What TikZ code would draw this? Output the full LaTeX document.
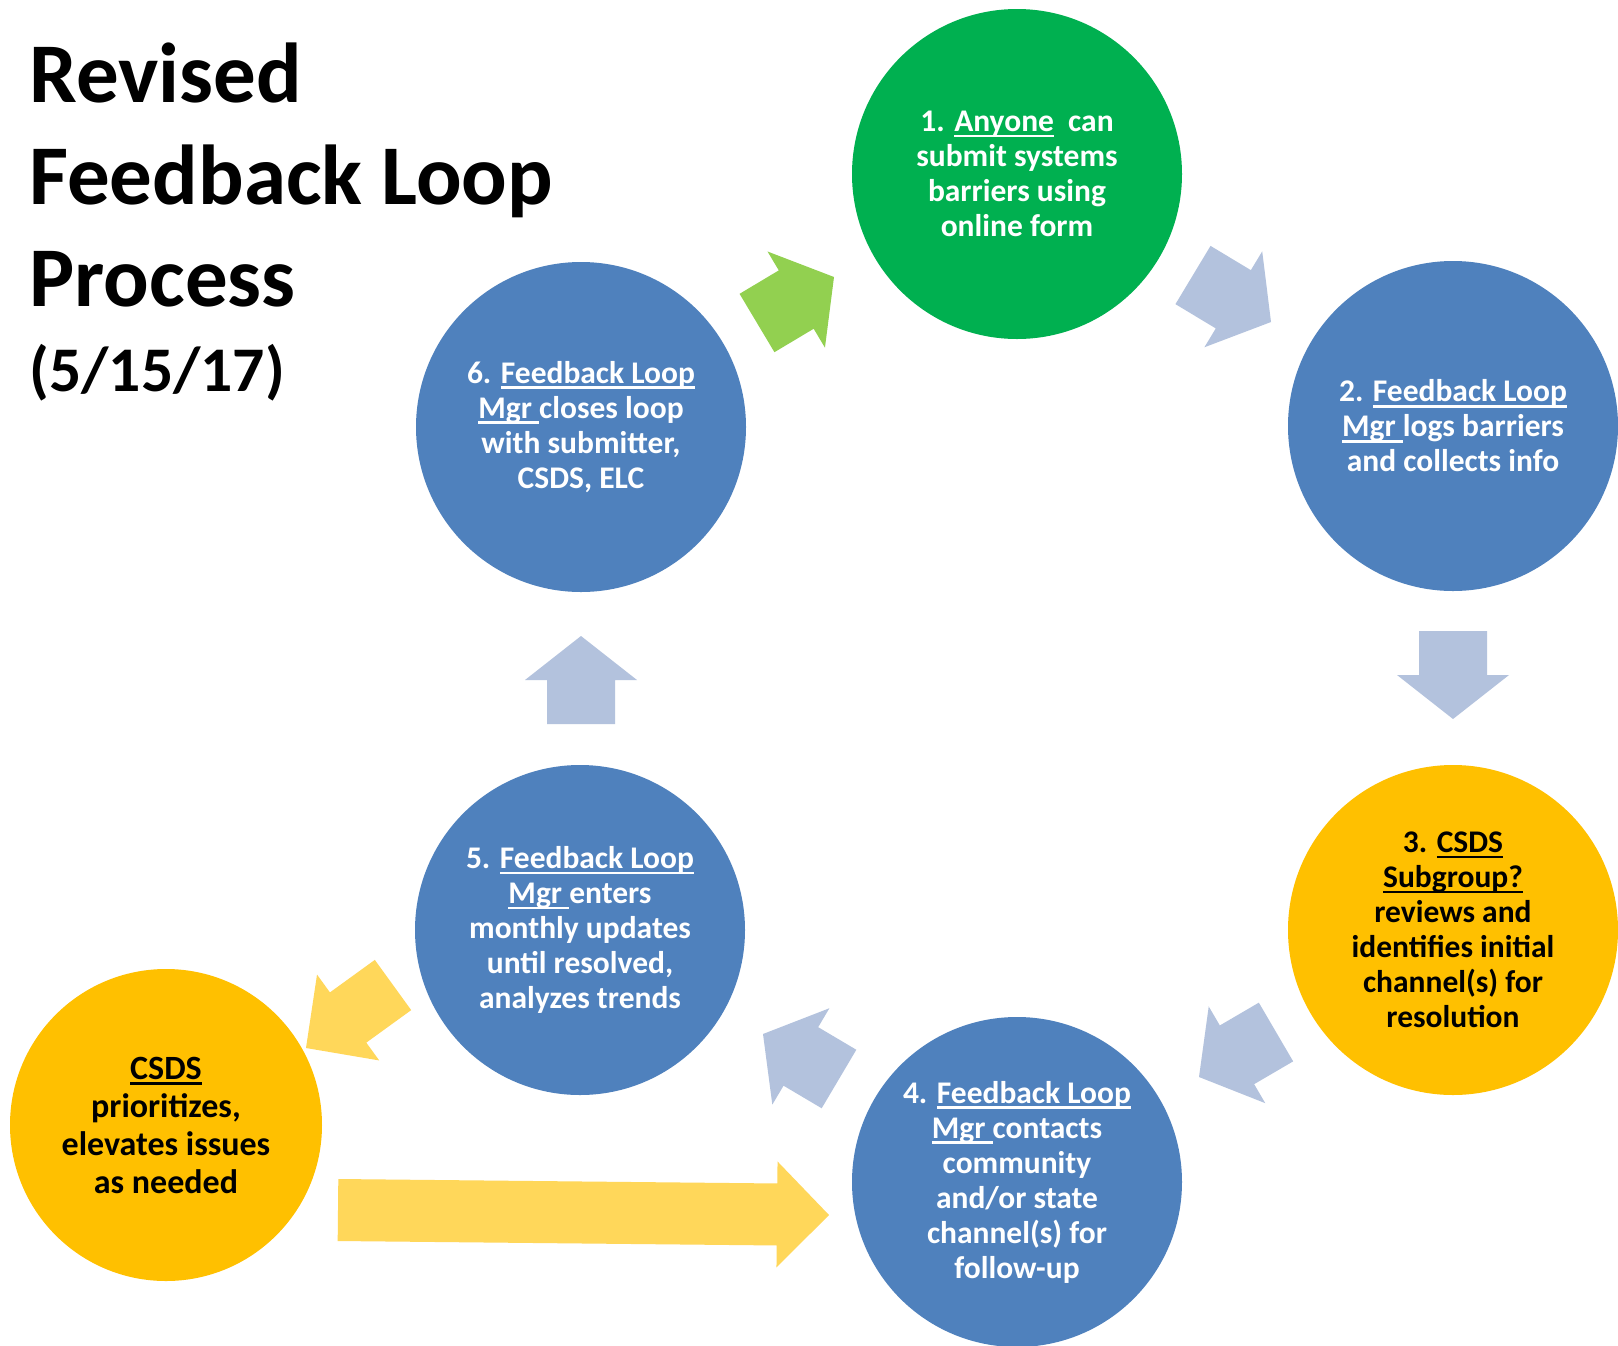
\documentclass[tikz,border=0pt]{standalone}
\usepackage{fontspec}
\setmainfont{Carlito}
\usetikzlibrary{calc}

\definecolor{loopgreen}{HTML}{00B050}
\definecolor{loopblue}{HTML}{4F81BD}
\definecolor{loopyellow}{HTML}{FFC000}
\definecolor{arrowblue}{HTML}{B3C2DD}
\definecolor{arrowgreen}{HTML}{92D050}
\definecolor{arrowyellow}{HTML}{FFD75A}

% underlined piece of one line
\newsavebox\ulbox
\newcommand{\ulin}[1]{\sbox\ulbox{#1}\rlap{\rule[-2.8pt]{\wd\ulbox}{1.3pt}}\usebox\ulbox}

% block arrow: tail, tip, colour, half shaft, half head, head length
\newcommand{\blockarrow}[6]{%
  \coordinate (hb) at ($(#2)!#6!(#1)$);
  \fill[#3] ($(#1)!#4!90:(#2)$) -- ($(hb)!#4!90:(#2)$) -- ($(hb)!#5!90:(#2)$) -- (#2)
    -- ($(hb)!#5!-90:(#2)$) -- ($(hb)!#4!-90:(#2)$) -- ($(#1)!#4!-90:(#2)$) -- cycle;
}

\begin{document}
\begin{tikzpicture}[x=0.5pt, y=-0.5pt,
    stage/.style={circle, minimum size=165pt, inner sep=0pt, align=center,
      font=\fontsize{15.75}{17.5}\selectfont\bfseries},
    bluestage/.style={stage, fill=loopblue, text=white}]
    \useasboundingbox (0,0) rectangle (1618,1345);
    \fill[white] (0,0) rectangle (1618,1345);

    % Title
    \node[anchor=base west, inner sep=0pt, align=left,
      font=\fontsize{42.5}{51}\selectfont\bfseries] (title) at (29,306)
      {Revised\\Feedback Loop\\Process};
    \node[anchor=base west, inner sep=0pt,
      font=\fontsize{31.8}{38}\selectfont\bfseries] (date) at (29,391) {(5/15/17)};

    % Draw the stages of the loop
    \node[stage, fill=loopgreen, text=white] (c1) at (1017,174)
      {1. \ulin{Anyone}\ \ can\\submit systems\\barriers using\\online form};
    \node[bluestage] (c2) at (1453,426)
      {2. \ulin{Feedback Loop}\\\ulin{Mgr }logs barriers\\and collects info};
    \node[stage, fill=loopyellow] (c3) at (1453,930)
      {3. \ulin{CSDS}\\\ulin{Subgroup?}\\reviews and\\identifies initial\\channel(s) for\\resolution};
    \node[bluestage] (c4) at (1017,1182)
      {4. \ulin{Feedback Loop}\\\ulin{Mgr }contacts\\community\\and/or state\\channel(s) for\\follow-up};
    \node[bluestage] (c5) at (580,930)
      {5. \ulin{Feedback Loop}\\\ulin{Mgr }enters\\monthly updates\\until resolved,\\analyzes trends};
    \node[bluestage] (c6) at (581,427)
      {6. \ulin{Feedback Loop}\\\ulin{Mgr }closes loop\\with submitter,\\CSDS, ELC};
    \node[stage, fill=loopyellow, minimum size=156pt,
      font=\fontsize{17}{19}\selectfont\bfseries] (c7) at (166,1125)
      {\ulin{CSDS}\\prioritizes,\\elevates issues\\as needed};

    % Define arrow ends
    \coordinate (a61) at (757,323);   \coordinate (b61) at (834,277);
    \coordinate (a12) at (1193,275);  \coordinate (b12) at (1271,322);
    \coordinate (a23) at (1453,631);  \coordinate (b23) at (1453,719);
    \coordinate (a34) at (1276,1032); \coordinate (b34) at (1199,1077);
    \coordinate (a45) at (839,1079);  \coordinate (b45) at (763,1034);
    \coordinate (a56) at (581,724);   \coordinate (b56) at (581,636);
    \coordinate (a57) at (393,985);   \coordinate (b57) at (306,1048);
    \coordinate (a74) at (338,1210);  \coordinate (b74) at (829,1215);

    % Draw the block arrows
    \blockarrow{a61}{b61}{arrowgreen}{17pt}{28pt}{22pt}
    \foreach \s in {12,23,34,45,56}
      {\blockarrow{a\s}{b\s}{arrowblue}{17pt}{28pt}{22pt}}
    \foreach \s in {57,74}
      {\blockarrow{a\s}{b\s}{arrowyellow}{15.5pt}{26.5pt}{26pt}}
\end{tikzpicture}
\end{document}
